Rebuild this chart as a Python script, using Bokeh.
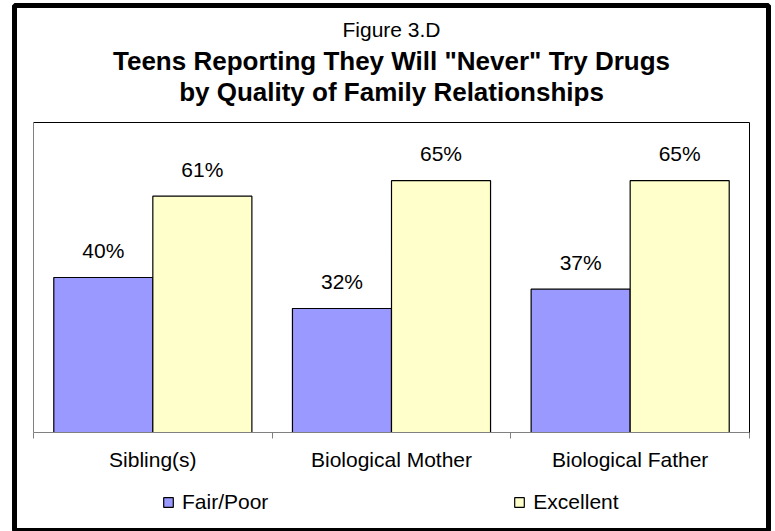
from bokeh.plotting import figure
from bokeh.models import (Range1d, FixedTicker, Legend, LegendItem,
                          ColumnDataSource, LinearAxis)
from bokeh.core.properties import value
from bokeh.embed import file_html
from bokeh.resources import INLINE

categories = ["Sibling(s)", "Biological Mother", "Biological Father"]
series_names = ["Fair/Poor", "Excellent"]
fair_poor = [40, 32, 37]
excellent = [61, 65, 65]
fig_label = "Figure 3.D"
title_lines = ['Teens Reporting They Will "Never" Try Drugs',
               "by Quality of Family Relationships"]
y_max = 80

FONT = "Liberation Sans"
colors = ["#9999FF", "#FFFFCC"]
bar_w = 0.415

# page geometry (pixels)
W, H = 775, 531
FL, FR, FT, FB = 14, 768, 5, 530          # outer frame (thick border)
PL, PR, PT, PB = 33, 749, 122, 432        # inner plot area
ncat = len(categories)
sx = (PR - PL) / ncat
sy = (PB - PT) / y_max
x0 = -(PL - FL) / sx
x1 = ncat + (FR - PR) / sx
y0 = -(FB - PB) / sy
y1 = y_max + (PT - FT) / sy


def ydata(py):
    return y_max - (py - PT) / sy


p = figure(width=W, height=H, x_range=Range1d(x0, x1), y_range=Range1d(y0, y1),
           output_backend="svg", toolbar_location=None, title=None,
           min_border_left=FL, min_border_right=W - FR,
           min_border_top=FT, min_border_bottom=H - FB,
           background_fill_color="white", border_fill_color="white")
p.xgrid.visible = False
p.ygrid.visible = False
p.outline_line_color = "black"
p.outline_line_width = 5

renderers = []
for si, (vals, col) in enumerate(zip([fair_poor, excellent], colors)):
    off = (si - 0.5) * bar_w
    xs = [i + 0.5 + off for i in range(ncat)]
    src = ColumnDataSource(dict(x=xs, top=vals, lab=[f"{v}%" for v in vals]))
    r = p.vbar(x="x", top="top", bottom=0, width=bar_w, source=src,
               fill_color=col, line_color="black", line_width=1.2)
    renderers.append(r)
    p.text(x="x", y="top", text="lab", source=src, text_align="center",
           text_baseline="middle", y_offset=-27, text_font=value(FONT),
           text_font_size="21px", text_color="black")

# bottom axis: labels at category centres, ticks at category boundaries
xa = p.xaxis[0]
xa.fixed_location = 0
xa.bounds = (0, ncat)
xa.ticker = FixedTicker(ticks=[i + 0.5 for i in range(ncat)],
                        minor_ticks=list(range(ncat + 1)))
xa.major_label_overrides = {i + 0.5: c for i, c in enumerate(categories)}
xa.major_tick_line_color = None
xa.major_tick_out = 0
xa.major_tick_in = 0
xa.minor_tick_line_color = "#808080"
xa.minor_tick_out = 6
xa.minor_tick_in = 0
xa.axis_line_color = "#808080"
xa.major_label_text_font = FONT
xa.major_label_text_font_size = "21px"
xa.major_label_text_color = "black"
xa.major_label_standoff = 9

ya = p.yaxis[0]
ya.fixed_location = 0
ya.bounds = (0, y_max)
ya.ticker = FixedTicker(ticks=[])
ya.axis_line_color = "#808080"
ya.major_tick_line_color = None
ya.minor_tick_line_color = None

# top and right edges of the plot area
top_ax = LinearAxis(fixed_location=y_max, bounds=(0, ncat),
                    ticker=FixedTicker(ticks=[]), axis_line_color="black",
                    major_tick_line_color=None, minor_tick_line_color=None)
p.add_layout(top_ax, "above")
right_ax = LinearAxis(fixed_location=ncat, bounds=(0, y_max),
                      ticker=FixedTicker(ticks=[]), axis_line_color="black",
                      major_tick_line_color=None, minor_tick_line_color=None)
p.add_layout(right_ax, "right")

# titles
tsrc = ColumnDataSource(dict(x=[ncat / 2] * 2, y=[ydata(60.5), ydata(91.5)],
                             t=title_lines))
p.text(x="x", y="y", text="t", source=tsrc, text_align="center",
       text_baseline="middle", text_font=value(FONT), text_font_size="26px",
       text_font_style="bold", text_color="black")
fsrc = ColumnDataSource(dict(x=[ncat / 2], y=[ydata(28.5)], t=[fig_label]))
p.text(x="x", y="y", text="t", source=fsrc, text_align="center",
       text_baseline="middle", text_font=value(FONT), text_font_size="21px",
       text_color="black")

legend = Legend(items=[LegendItem(label=n, renderers=[r])
                       for n, r in zip(series_names, renderers)],
                orientation="horizontal", location=(162 - FL, FB - 514),
                spacing=245, glyph_width=12, glyph_height=12, label_standoff=8,
                label_text_font=FONT, label_text_font_size="21px",
                label_text_color="black",
                padding=0, margin=0, border_line_alpha=0,
                background_fill_alpha=0)
p.add_layout(legend, "center")

open("out.html", "w").write(file_html(p, INLINE))
